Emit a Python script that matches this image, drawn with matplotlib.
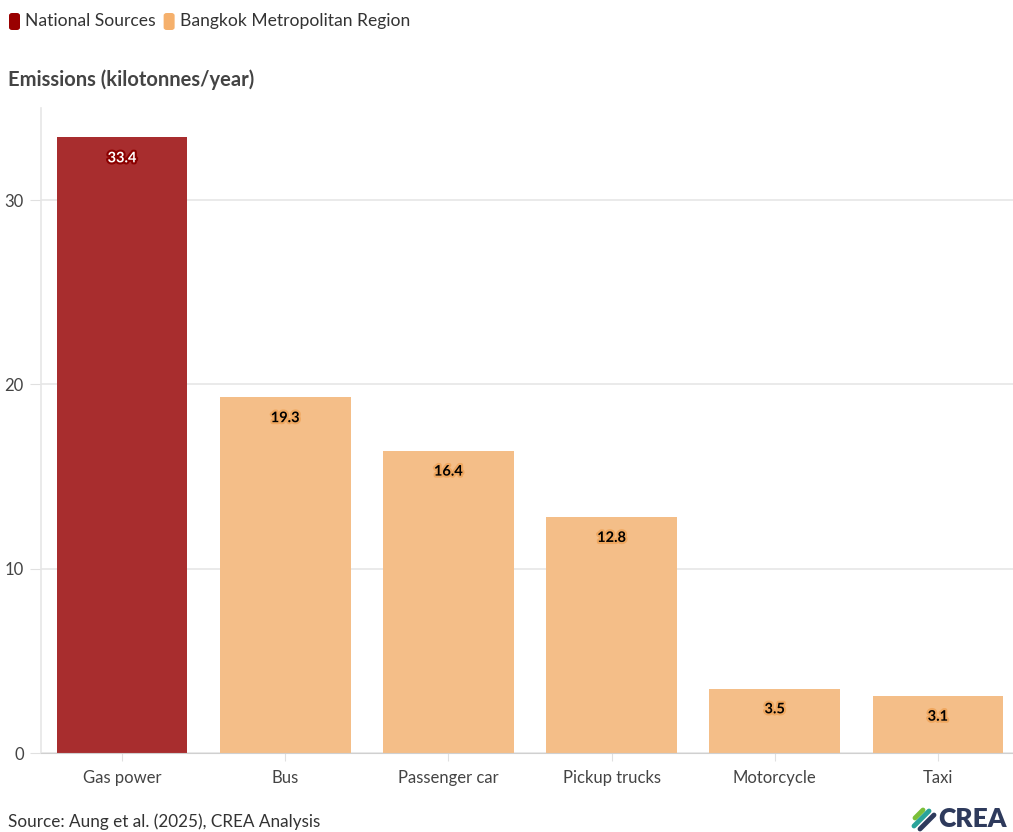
import matplotlib.pyplot as plt
import matplotlib.patheffects as pe
from matplotlib.patches import FancyBboxPatch
from matplotlib.lines import Line2D

categories = ["Gas power", "Bus", "Passenger car", "Pickup trucks", "Motorcycle", "Taxi"]
values = [33.4, 19.3, 16.4, 12.8, 3.5, 3.1]
groups = ["National Sources", "Bangkok Metropolitan Region",
          "Bangkok Metropolitan Region", "Bangkok Metropolitan Region",
          "Bangkok Metropolitan Region", "Bangkok Metropolitan Region"]
yticks = [0, 10, 20, 30]

bar_colors = {"National Sources": "#a82d2e", "Bangkok Metropolitan Region": "#f4be88"}
legend_colors = {"National Sources": "#990000", "Bangkok Metropolitan Region": "#f5b06c"}

plt.rcParams['font.family'] = ['Lato', 'DejaVu Sans']

W, H = 1013, 832
fig = plt.figure(figsize=(W / 100, H / 100), dpi=100)
ax = fig.add_axes([40.5 / W, (H - 753) / H, 979 / W, 645 / H])

x = list(range(len(categories)))
ax.bar(x, values, width=0.8, color=[bar_colors[g] for g in groups], zorder=2)

for xi, v, g in zip(x, values, groups):
    if g == "National Sources":
        txt, halo = "white", "#8b0000"
    else:
        txt, halo = "black", "#f0a860"
    ax.annotate(f"{v}", (xi, v), xytext=(0, -15), textcoords="offset points",
                ha="center", va="center", fontsize=10.5, fontweight="bold",
                color=txt, zorder=3,
                path_effects=[pe.withStroke(linewidth=3, foreground=halo)])

ax.set_xlim(-0.5, len(categories) - 0.5)
ax.set_ylim(0, 35)
ax.set_yticks(yticks)
ax.set_xticks(x)
ax.set_xticklabels(categories)
ax.grid(axis="y", color="#e6e6e6", linewidth=1.2, zorder=0)
for s in ["top", "right"]:
    ax.spines[s].set_visible(False)
ax.spines["left"].set_color("#e6e6e6")
ax.spines["left"].set_linewidth(1.2)
ax.spines["bottom"].set_color("#d0d0d0")
ax.tick_params(axis="y", length=8, color="#e0e0e0", labelsize=12, labelcolor="#444444", pad=4)
ax.tick_params(axis="x", length=6, color="#e0e0e0", labelsize=12, labelcolor="#444444", pad=6)

# legend
lx = 9
for name in ["National Sources", "Bangkok Metropolitan Region"]:
    fig.patches.append(FancyBboxPatch((lx / W, (H - 30) / H), 11 / W, 17 / H,
                                      boxstyle="round,pad=0,rounding_size=0.003",
                                      transform=fig.transFigure,
                                      facecolor=legend_colors[name], edgecolor="none"))
    t = fig.text((lx + 16) / W, (H - 21) / H, name, fontsize=12.6, color="#333333",
                 va="center", ha="left")
    fig.canvas.draw()
    bb = t.get_window_extent()
    lx = bb.x1 + 8

fig.text(8 / W, (H - 80) / H, "Emissions (kilotonnes/year)", fontsize=14.5,
         fontweight="bold", color="#444444", va="center", ha="left")

fig.text(8 / W, (H - 822) / H, "Source: Aung et al. (2025), CREA Analysis",
         fontsize=12.3, color="#333333", va="center", ha="left")

# logo
for (x0, y0, x1, y1, c) in [(915, 818, 923, 810, "#7bbf3a"), (914, 826, 929, 811, "#2aa39a"),
                            (920, 829, 934, 815, "#2e3a5c")]:
    fig.lines.append(Line2D([x0 / W, x1 / W], [(H - y0) / H, (H - y1) / H],
                            transform=fig.transFigure, color=c, linewidth=3.5,
                            solid_capstyle="round"))
fig.text(938 / W, (H - 819) / H, "CREA", fontsize=19, fontweight="heavy",
         color="#2e3a5c", va="center", ha="left")

fig.savefig("out.png", dpi=100)
